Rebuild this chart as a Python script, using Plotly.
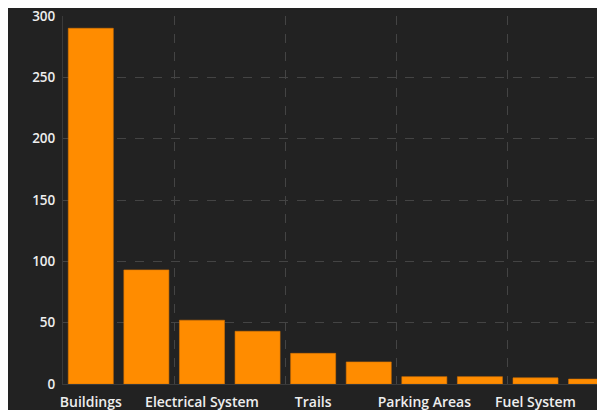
import plotly.graph_objects as go

categories = ["Buildings", "Roads", "Electrical System", "Water System", "Trails",
              "Signage", "Parking Areas", "Restrooms", "Fuel System", "Campgrounds"]
values = [290, 93, 52, 43, 25, 18, 6, 6, 5, 4]

fig = go.Figure(go.Bar(
    x=categories, y=values,
    marker=dict(color="#FF8C00", line=dict(color="#D97400", width=0.6)),
    width=0.81,
))

fig.update_layout(
    width=597, height=402,
    paper_bgcolor="#222222", plot_bgcolor="#222222",
    margin=dict(l=55, r=0, t=8, b=26),
    showlegend=False,
    font=dict(family="Open Sans, DejaVu Sans, sans-serif", color="#EEEEEE", size=13),
    bargap=0.19,
)
fig.update_xaxes(
    type="category", range=[-0.5, 9.25], automargin=False,
    tickmode="linear", tick0=0, dtick=2, tickangle=0,
    tickson="boundaries", ticks="", ticklen=0, ticklabelstandoff=5,
    ticklabeloverflow="allow",
    showgrid=True, gridcolor="#444444", griddash="dash", gridwidth=1,
    showline=True, linecolor="#3a3a3a",
    tickfont=dict(size=14, color="#EEEEEE", weight=600),
)
fig.update_yaxes(
    range=[0, 300], tickvals=[0, 50, 100, 150, 200, 250, 300], automargin=False,
    showgrid=True, gridcolor="#444444", griddash="dash", gridwidth=1,
    zeroline=False, showline=True, linecolor="#3a3a3a",
    ticks="", ticklabelstandoff=4, ticklabeloverflow="allow",
    tickfont=dict(size=13.5, color="#EEEEEE", weight=600),
)

fig.write_html("out.html")
